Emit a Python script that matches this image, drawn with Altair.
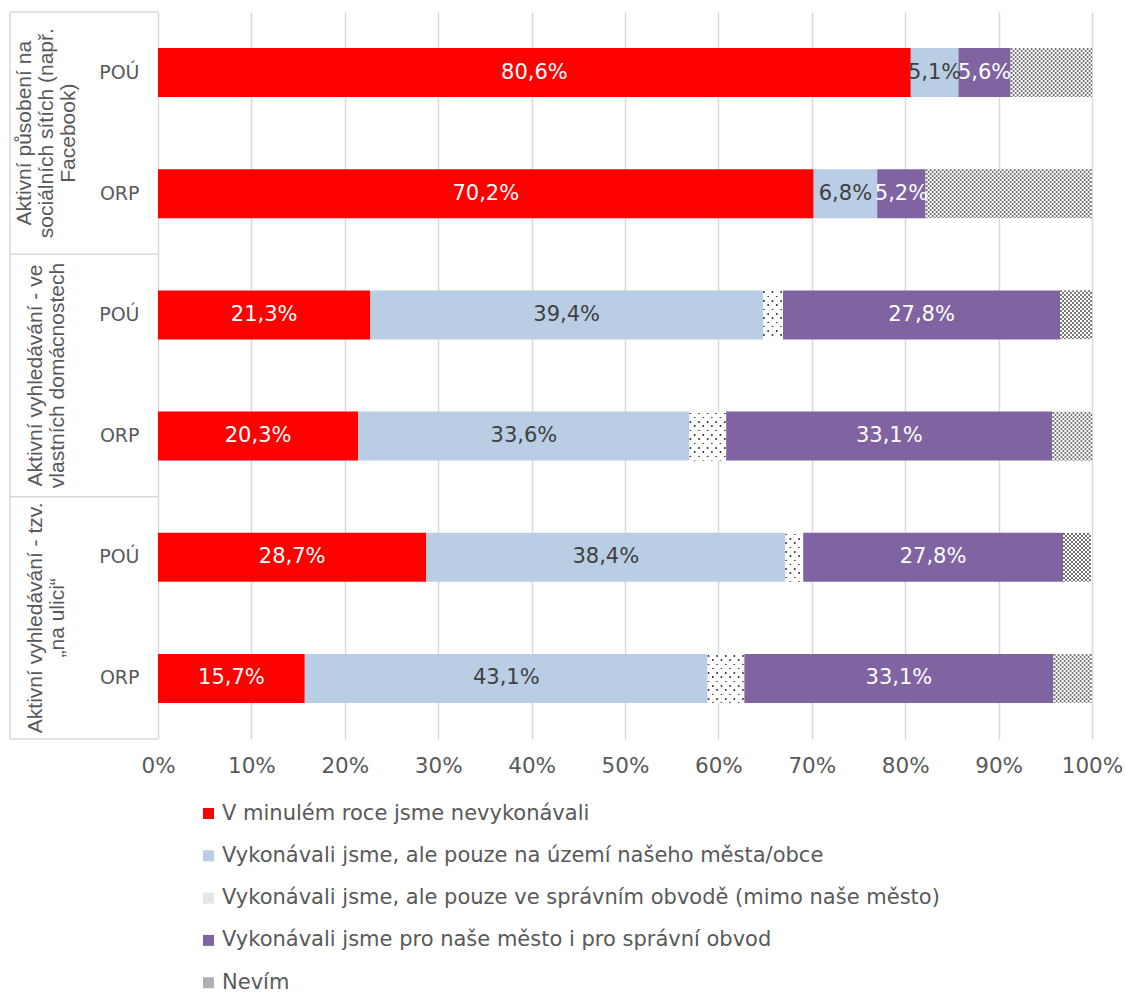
import altair as alt
import pandas as pd

# ---------------- data ----------------
group_labels = [
    "Aktivní působení na\nsociálních sítích (např.\nFacebook)",
    "Aktivní vyhledávání - ve\nvlastních domácnostech",
    "Aktivní vyhledávání - tzv.\n„na ulici“",
]
sub_labels = ["POÚ", "ORP"]

categories = [
    "V minulém roce jsme nevykonávali",
    "Vykonávali jsme, ale pouze na území našeho města/obce",
    "Vykonávali jsme, ale pouze ve správním obvodě (mimo naše město)",
    "Vykonávali jsme pro naše město i pro správní obvod",
    "Nevím",
]

# one value per bar, top to bottom (group1 POÚ, group1 ORP, group2 POÚ, ...)
v_red = [80.6, 70.2, 21.3, 20.3, 28.7, 15.7]
v_blue = [5.1, 6.8, 39.4, 33.6, 38.4, 43.1]
v_dot = [0.0, 0.0, 2.0, 3.7, 1.9, 3.9]
v_purple = [5.6, 5.2, 27.8, 33.1, 27.8, 33.1]
v_nevim = [8.7, 17.8, 3.2, 4.0, 3.1, 4.1]

series = [v_red, v_blue, v_dot, v_purple, v_nevim]
row_ids = [f"{g + 1}|{s}" for g in range(3) for s in sub_labels]

records = []
for ci, (cat, vals) in enumerate(zip(categories, series)):
    for ri, rid in enumerate(row_ids):
        records.append({"row": rid, "cat": cat, "order": ci, "value": vals[ri]})
df = pd.DataFrame(records)

gl_df = pd.DataFrame({"row": [f"{g + 1}|POÚ" for g in range(3)], "txt": group_labels})
bottom_df = pd.DataFrame({"row": [row_ids[-1]]})

# ---------------- style ----------------
W, H = 934, 727
BAR_H = 49
TXT = "#595959"
GRID = "#d9d9d9"
FONT = "DejaVu Sans"
colors = ["#FF0000", "#B9CDE5", "#e6e6e6", "#8064A2", "#b0b0b0"]
label_cats = [categories[0], categories[1], categories[3]]


def vgrad(color, period, dark, phase, height=BAR_H):
    stops = [{"offset": 0, "color": "#ffffff"}]
    y = phase
    while y < height:
        a = y / height
        b = min(y + dark, height) / height
        stops += [
            {"offset": a, "color": "#ffffff"},
            {"offset": a, "color": color},
            {"offset": b, "color": color},
            {"offset": b, "color": "#ffffff"},
        ]
        y += period
    stops.append({"offset": 1, "color": "#ffffff"})
    return {"gradient": "linear", "x1": 0, "y1": 0, "x2": 0, "y2": 1, "stops": stops}


xs_scale = alt.Scale(domain=[0, 1], nice=False, zero=True)
ys_scale = alt.Scale(domain=row_ids, paddingInner=0, paddingOuter=0)

X_AX = alt.Axis(
    values=[i / 10 for i in range(11)], format="%", grid=True, gridColor=GRID,
    gridWidth=1.5, domain=False, ticks=False, labelFont=FONT, labelFontSize=21.5,
    labelColor=TXT, labelPadding=16, labelFlush=False, title=None,
)
Y_AX = alt.Axis(
    labelExpr="split(datum.label, '|')[1]", ticks=False, domain=False, grid=False,
    labelFont=FONT, labelFontSize=19, labelColor=TXT, labelPadding=19, title=None,
)


def X(field):
    return alt.X(field, scale=xs_scale, axis=X_AX, title=None)


def Y(band=0.5):
    return alt.Y("row:N", scale=ys_scale, axis=Y_AX, title=None, bandPosition=band)


base = alt.Chart(df).transform_stack(
    stack="value", as_=["v0", "v1"], groupby=["row"], offset="normalize",
    sort=[alt.SortField("order", order="ascending")],
)

bars = base.mark_bar(size=BAR_H).encode(
    x=X("v0:Q"),
    x2="v1:Q",
    y=Y(),
    color=alt.Color(
        "cat:N", scale=alt.Scale(domain=categories, range=colors), sort=categories,
        legend=alt.Legend(
            orient="none", legendX=40, legendY=791, direction="vertical", title=None,
            symbolType="square", symbolSize=121, symbolStrokeWidth=0,
            labelFont=FONT, labelFontSize=21, labelColor=TXT, rowPadding=20.3,
            labelOffset=3, labelLimit=1000,
        ),
    ),
)

white_over = base.transform_filter(
    alt.FieldOneOfPredicate(field="cat", oneOf=[categories[2], categories[4]])
).mark_bar(size=BAR_H, color="white").encode(x=X("v0:Q"), x2="v1:Q", y=Y())


def pattern_layer(cat, step_px, width_px, grad_a, grad_b):
    step = step_px / W
    w = width_px / W
    return (
        base.transform_filter(alt.datum.cat == cat)
        .transform_calculate(xs=f"sequence(datum.v0, datum.v1 - {w / 2}, {step})")
        .transform_flatten(["xs"])
        .transform_calculate(
            xe=f"min(datum.xs + {w}, datum.v1)",
            par=f"round((datum.xs - datum.v0) / {step}) % 2",
        )
        .mark_bar(size=BAR_H)
        .encode(
            x=X("xs:Q"),
            x2="xe:Q",
            y=Y(),
            fill=alt.condition("datum.par == 0", alt.value(grad_a), alt.value(grad_b)),
        )
    )


dots = pattern_layer(
    categories[2], 4.3, 1.6,
    vgrad("#404040", 8.6, 1.6, 1.0), vgrad("#404040", 8.6, 1.6, 5.3),
)
hatch = pattern_layer(
    categories[4], 2.0, 2.0,
    vgrad("#757575", 4.0, 2.0, 0.0), vgrad("#757575", 4.0, 2.0, 2.0),
)

labels = base.transform_filter(
    alt.FieldOneOfPredicate(field="cat", oneOf=label_cats)
).transform_calculate(
    mid="(datum.v0 + datum.v1) / 2",
    lab="replace(format(datum.value, '.1f'), '.', ',') + '%'",
    tc=f"datum.cat == '{categories[1]}' ? '#404040' : '#ffffff'",
).mark_text(font=FONT, fontSize=21, align="center", baseline="middle").encode(
    x=X("mid:Q"),
    y=Y(),
    text="lab:N",
    color=alt.Color("tc:N", scale=None, legend=None),
)

gl_base = alt.Chart(gl_df).transform_calculate(
    nlines="length(split(datum.txt, '\\n'))"
)


def group_text(nlines, xpos):
    return gl_base.transform_filter(alt.datum.nlines == nlines).mark_text(
        angle=270, align="center", baseline="middle", lineBreak="\n", lineHeight=22,
        font="Liberation Sans", fontSize=21, color=TXT,
    ).encode(y=Y(1), x=alt.value(xpos), text="txt:N")


group_txt3 = group_text(3, -133)
group_txt2 = group_text(2, -122)

top_rules = alt.Chart(gl_df).mark_rule(color=GRID, strokeWidth=1.5).encode(
    y=Y(0), x=alt.value(-148), x2=alt.value(0),
)
bottom_rule = alt.Chart(bottom_df).mark_rule(color=GRID, strokeWidth=1.5).encode(
    y=Y(1), x=alt.value(-148), x2=alt.value(0),
)
left_rule = alt.Chart(bottom_df).mark_rule(color=GRID, strokeWidth=1.5).encode(
    x=alt.value(-148), y=alt.value(0), y2=alt.value(H),
)

chart = alt.layer(
    bars, white_over, dots, hatch, labels, group_txt3, group_txt2,
    top_rules, bottom_rule, left_rule,
).properties(
    width=W, height=H,
    padding={"left": 158, "top": 12, "right": 33, "bottom": 254},
    autosize=alt.AutoSizeParams(type="none"),
).configure(background="white").configure_view(stroke="transparent", strokeWidth=0)

chart.save("out.html", embed_options={"renderer": "svg", "actions": False})
